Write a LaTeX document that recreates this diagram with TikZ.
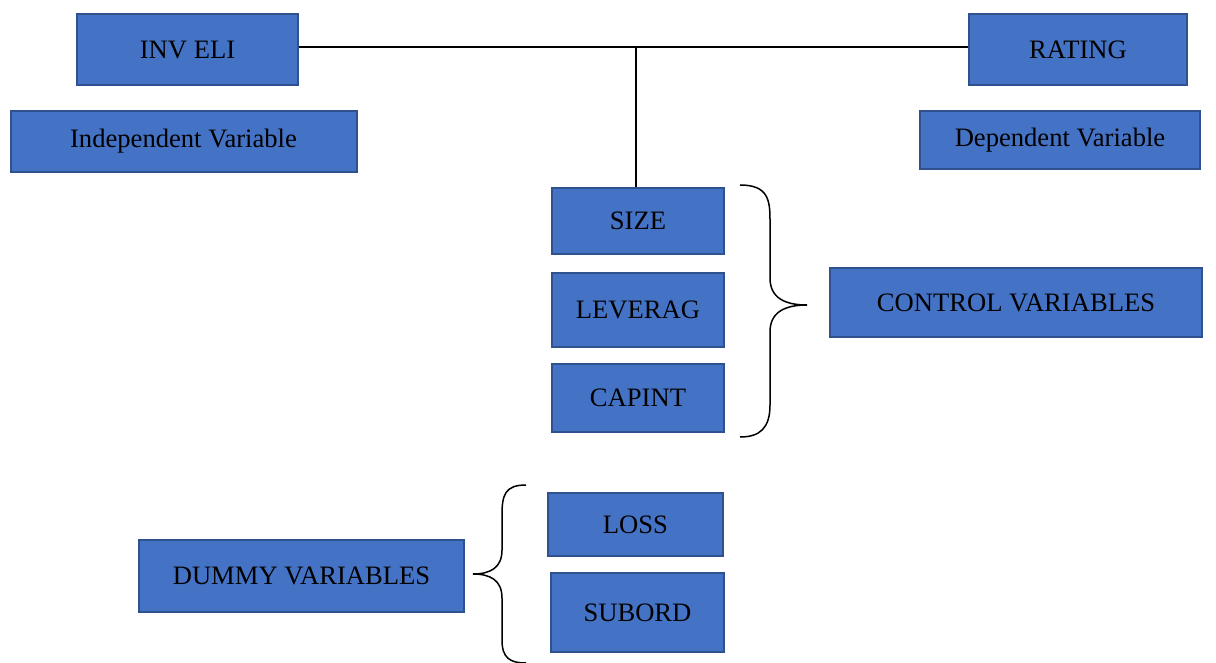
\documentclass[tikz,border=0pt]{standalone}
\usepackage{fontspec}
\setmainfont{Liberation Serif}
\definecolor{boxfill}{HTML}{4472C4}
\definecolor{boxline}{HTML}{2F528F}
\tikzset{
  varbox/.style={draw=boxline, fill=boxfill, line width=1pt, inner sep=0pt,
    font=\fontsize{13.3}{16}\selectfont},
  link/.style={black, line width=0.75pt},
}
\begin{document}
\begin{tikzpicture}[x=0.5pt,y=-0.5pt]
\useasboundingbox (0,0) rectangle (1216,663);
%%% The main variables
\node[varbox, minimum width=110.5pt, minimum height=35.5pt] (inveli) at (187.5, 49.5) {INV ELI};
\node[varbox, minimum width=173pt, minimum height=30.5pt] (indep) at (183.5, 141.5) {Independent Variable};
\node[varbox, minimum width=109pt, minimum height=35.5pt] (rating) at (1078, 49.5) {RATING};
\node[varbox, minimum width=140pt, minimum height=29pt] (dep) at (1060, 140) {Dependent Variable};
%%% The control variables
\node[varbox, minimum width=86pt, minimum height=33pt] (size) at (638, 221) {SIZE};
\node[varbox, minimum width=86pt, minimum height=37pt] (leverag) at (638, 310) {LEVERAG};
\node[varbox, minimum width=86pt, minimum height=34pt] (capint) at (638, 398) {CAPINT};
\node[varbox, minimum width=186pt, minimum height=34.5pt] (control) at (1016, 302.5) {CONTROL VARIABLES};
%%% The dummy variables
\node[varbox, minimum width=87.5pt, minimum height=31.5pt] (loss) at (635.5, 524.5) {LOSS};
\node[varbox, minimum width=86.5pt, minimum height=39.5pt] (subord) at (637.5, 612.5) {SUBORD};
\node[varbox, minimum width=162.5pt, minimum height=36pt] (dummy) at (301.5, 576) {DUMMY VARIABLES};
%%% Connectors
\coordinate (join) at (636, 47);
\draw[link] (inveli.east |- join) -- (rating.west |- join);
\draw[link] (join) -- (join |- size.north);
%%% Braces
\coordinate (ctrltip) at (807, 305);
\coordinate (dummytip) at (473, 574);
\draw[link] (740, 185) .. controls (768, 185) and (770, 200) .. (770, 220)
  -- (770, 278) .. controls (770, 298) and (785, 305) .. (ctrltip)
  (ctrltip) .. controls (785, 305) and (770, 312) .. (770, 332)
  -- (770, 405) .. controls (770, 428) and (760, 437) .. (740, 437);
\draw[link] (526, 485) .. controls (505, 485) and (502, 495) .. (502, 515)
  -- (502, 550) .. controls (502, 568) and (490, 574) .. (dummytip)
  (dummytip) .. controls (490, 574) and (502, 580) .. (502, 598)
  -- (502, 640) .. controls (502, 658) and (510, 663) .. (526, 663);
\end{tikzpicture}
\end{document}
